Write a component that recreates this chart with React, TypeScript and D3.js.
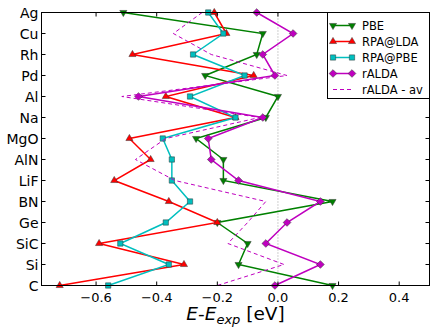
import React from 'react';
import * as d3 from 'd3';

const categories = ['Ag', 'Cu', 'Rh', 'Pd', 'Al', 'Na', 'MgO', 'AlN', 'LiF', 'BN', 'Ge', 'SiC', 'Si', 'C'];

const pbe = [-0.51, -0.05, -0.07, -0.24, 0.0, -0.04, -0.27, -0.18, -0.18, 0.18, -0.2, -0.1, -0.13, 0.18];
const rpaLda = [-0.21, -0.17, -0.48, -0.08, -0.37, -0.14, -0.49, -0.42, -0.54, -0.36, -0.2, -0.59, -0.31, -0.72];
const rpaPbe = [-0.23, -0.18, -0.28, -0.11, -0.29, -0.14, -0.38, -0.35, -0.35, -0.29, -0.37, -0.52, -0.36, -0.56];
const ralda = [-0.07, 0.05, -0.05, -0.01, -0.46, -0.05, -0.23, -0.22, -0.13, 0.14, 0.03, -0.04, 0.14, -0.01];
const raldaAv = [-0.25, -0.345, -0.22, 0.03, -0.515, -0.06, -0.37, -0.47, -0.34, -0.04, -0.1, -0.165, 0.02, -0.2];

const xTicks = [-0.6, -0.4, -0.2, 0.0, 0.2, 0.4];

const W = 436;
const H = 327;
const font = 'DejaVu Sans';

// series: label, values, colour, marker kind (null = no markers, dashed)
const series = [
  { label: 'PBE', values: pbe, color: '#008000', marker: 'tri_down' },
  { label: 'RPA@LDA', values: rpaLda, color: '#ff0000', marker: 'tri_up' },
  { label: 'RPA@PBE', values: rpaPbe, color: '#00bfbf', marker: 'square' },
  { label: 'rALDA', values: ralda, color: '#bf00bf', marker: 'diamond' },
  { label: 'rALDA - av', values: raldaAv, color: '#bf00bf', marker: null },
];

const markerPath = (kind: string | null) => {
  if (kind === 'tri_up' || kind === 'tri_down') return d3.symbol(d3.symbolTriangle, 22)()!;
  if (kind === 'square') return d3.symbol(d3.symbolSquare, 28)()!;
  if (kind === 'diamond') return d3.symbol(d3.symbolSquare, 30)()!;
  return '';
};

const markerRot = (kind: string | null) => {
  if (kind === 'tri_down') return 180;
  if (kind === 'diamond') return 45;
  return 0;
};

const Marker = ({ x, y, kind, color }: { x: number; y: number; kind: string | null; color: string }) => (
  <path
    d={markerPath(kind)}
    transform={`translate(${x},${y}) rotate(${markerRot(kind)})`}
    fill={color}
    stroke="#333"
    strokeWidth={0.5}
  />
);

export default function App() {
  const left = 41.5, right = 429.5, top = 12.5, bottom = 285.5;

  const x = d3.scaleLinear().domain([-0.78, 0.5]).range([left, right]);
  const y = d3.scalePoint<string>().domain(categories).range([top, bottom]).padding(0);

  const line = d3
    .line<number>()
    .x((d) => x(d))
    .y((_, i) => y(categories[i])!);

  const tickLen = 4;

  // legend placement
  const lg = { x0: 327.5, y0: 12.5, w: 102, h: 86, row0: 25.5, step: 16 };

  return (
    <div style={{ position: 'absolute', left: 0, top: 0 }}>
      <svg width={W} height={H} style={{ display: 'block', background: '#fff' }} fontFamily={font}>
        <defs>
          <clipPath id="plot">
            <rect x={left} y={top - 6} width={right - left} height={bottom - top + 12} />
          </clipPath>
        </defs>

        {/* zero line */}
        <line x1={x(0)} x2={x(0)} y1={top} y2={bottom} stroke="#888" strokeWidth={0.8} strokeDasharray="1,2" />

        {/* series */}
        <g clipPath="url(#plot)">
          {series.map((s) => (
            <g key={s.label}>
              <path
                d={line(s.values)!}
                fill="none"
                stroke={s.color}
                strokeWidth={s.marker ? 1.5 : 1}
                strokeDasharray={s.marker ? undefined : '4,3'}
              />
              {s.marker &&
                s.values.map((v, i) => (
                  <Marker key={i} x={x(v)} y={y(categories[i])!} kind={s.marker} color={s.color} />
                ))}
            </g>
          ))}
        </g>

        {/* frame */}
        <rect x={left} y={top} width={right - left} height={bottom - top} fill="none" stroke="#000" strokeWidth={1} />

        {/* x ticks */}
        {xTicks.map((t) => (
          <g key={t}>
            <line x1={x(t)} x2={x(t)} y1={bottom} y2={bottom - tickLen} stroke="#000" />
            <line x1={x(t)} x2={x(t)} y1={top} y2={top + tickLen} stroke="#000" />
            <text x={x(t)} y={bottom + 16} textAnchor="middle" fontSize={13} fill="#000">
              {t === 0 ? '0.0' : (t < 0 ? '\u2212' : '') + Math.abs(t).toFixed(1)}
            </text>
          </g>
        ))}

        {/* y ticks */}
        {categories.map((c) => (
          <g key={c}>
            <line x1={left} x2={left + tickLen} y1={y(c)} y2={y(c)} stroke="#000" />
            <line x1={right} x2={right - tickLen} y1={y(c)} y2={y(c)} stroke="#000" />
            <text x={left - 3} y={y(c)} dy="0.36em" textAnchor="end" fontSize={14} fill="#000">
              {c}
            </text>
          </g>
        ))}

        {/* x label */}
        <text x={(left + right) / 2} y={320} textAnchor="middle" fontSize={18.5} fill="#000">
          <tspan fontStyle="italic">E</tspan>
          <tspan>-</tspan>
          <tspan fontStyle="italic">E</tspan>
          <tspan fontStyle="italic" fontSize={13} dy={3.5}>exp</tspan>
          <tspan dy={-3.5}> [eV]</tspan>
        </text>

        {/* legend */}
        <g>
          <rect x={lg.x0} y={lg.y0} width={lg.w} height={lg.h} fill="#fff" stroke="#000" strokeWidth={1} />
          {series.map((s, i) => {
            const ly = lg.row0 + i * lg.step;
            return (
              <g key={s.label}>
                <line
                  x1={333}
                  x2={352}
                  y1={ly}
                  y2={ly}
                  stroke={s.color}
                  strokeWidth={s.marker ? 1.5 : 1}
                  strokeDasharray={s.marker ? undefined : '4,3'}
                />
                {s.marker && (
                  <>
                    <Marker x={333} y={ly} kind={s.marker} color={s.color} />
                    <Marker x={352} y={ly} kind={s.marker} color={s.color} />
                  </>
                )}
                <text x={362} y={ly} dy="0.36em" fontSize={11.5} fill="#000">
                  {s.label}
                </text>
              </g>
            );
          })}
        </g>
      </svg>
    </div>
  );
}
